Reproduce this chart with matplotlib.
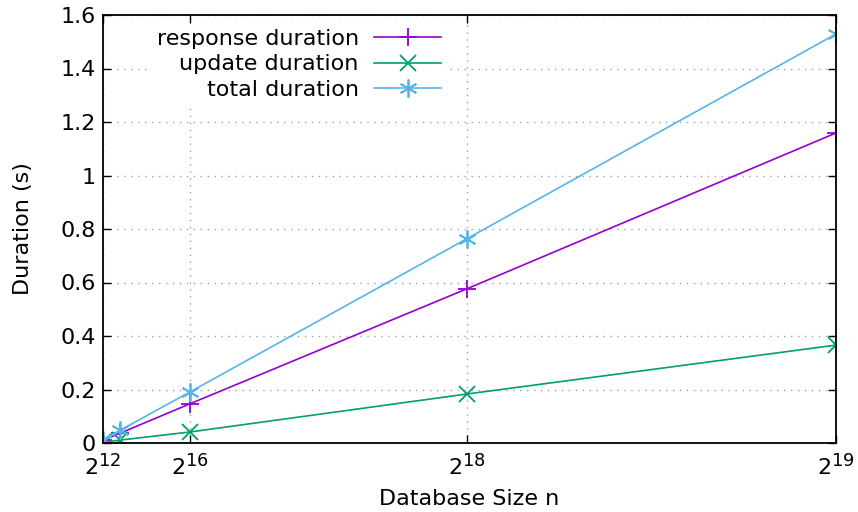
import matplotlib
matplotlib.use("Agg")
import matplotlib.pyplot as plt
import matplotlib._mathtext as _mt

_mt.SHRINK_FACTOR = 0.8

n_values = [2**12, 2**14, 2**16, 2**18, 2**19]
response = [0.010, 0.037, 0.146, 0.576, 1.159]
update = [0.003, 0.011, 0.041, 0.183, 0.366]
total = [0.013, 0.048, 0.190, 0.763, 1.529]
xticks = [2**12, 2**16, 2**18, 2**19]
xtick_labels = [r"$2^{12}$", r"$2^{16}$", r"$2^{18}$", r"$2^{19}$"]
yticks = [0, 0.2, 0.4, 0.6, 0.8, 1, 1.2, 1.4, 1.6]
ytick_labels = ["0", "0.2", "0.4", "0.6", "0.8", "1", "1.2", "1.4", "1.6"]

plt.rcParams['font.family'] = ['DejaVu Sans']
plt.rcParams['mathtext.fontset'] = 'dejavusans'

fig = plt.figure(figsize=(8.58, 5.12), dpi=100)
ax = fig.add_axes([103/858, 1-443/512, (836-103)/858, (443-15)/512])

ax.plot(n_values, response, color="#9400d3", lw=1.2, marker="+", ms=13, mew=1.3, label="response duration")
ax.plot(n_values, update, color="#009e73", lw=1.2, marker="x", ms=11, mew=1.3, label="update duration")
ax.plot(n_values, total, color="#56b4e9", lw=1.2, marker=(6, 2, 0), ms=13, mew=1.3, label="total duration")

ax.set_xlim(2**12, 2**19)
ax.set_ylim(0, 1.6)
ax.set_xticks(xticks)
ax.set_xticklabels(xtick_labels, fontsize=16)
ax.set_yticks(yticks)
ax.set_yticklabels(ytick_labels, fontsize=16)
ax.tick_params(direction="in", top=True, right=True, length=6, width=1, pad=5)
ax.tick_params(axis="x", pad=7)
ax.grid(True, color="#a0a0a0", linestyle=(0, (1, 4)), lw=1)
for s in ax.spines.values():
    s.set_linewidth(1.3)
ax.set_xlabel("Database Size n", fontsize=16, labelpad=8)
ax.set_ylabel("Duration (s)", fontsize=16, labelpad=20)

leg = ax.legend(loc="upper left", bbox_to_anchor=(0.052, 1.004), frameon=True, fancybox=False,
                edgecolor="none", framealpha=1, fontsize=16, markerfirst=False,
                handlelength=3.0, borderpad=0.2, labelspacing=0.25, handletextpad=0.7)
for t in leg.get_texts():
    t.set_ha("right")
    t.set_position((0, 0))
fig.savefig("out.png", dpi=100)
